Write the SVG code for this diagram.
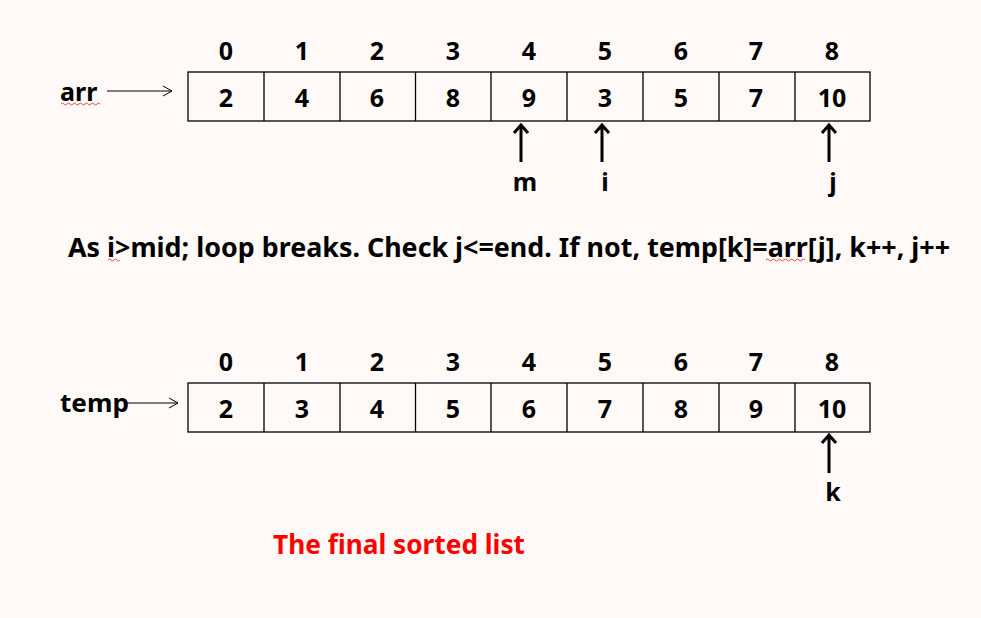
<svg xmlns="http://www.w3.org/2000/svg" width="981" height="618" viewBox="0 0 981 618">
<defs>
<style>
.t{font-family:"Noto Sans","Open Sans",sans-serif;font-weight:bold;fill:#000;}
.n{font-size:25px;text-anchor:middle;}
.cell{fill:none;stroke:#000;stroke-width:1.3;}
.up{stroke:#000;stroke-width:3;fill:none;}
.thin{stroke:#000;stroke-width:1;fill:none;}
.sq{stroke:#e02020;stroke-width:0.8;fill:none;}
</style>
</defs>
<rect width="981" height="618" fill="#fffaf7"/>
<g id="arr-array">
<rect class="cell" x="188" y="72" width="682" height="49"/>
<path class="cell" d="M264 72V121M340 72V121M415.5 72V121M491 72V121M567 72V121M643 72V121M719 72V121M795 72V121"/>
<g class="t n">
<text x="226" y="60">0</text><text x="302" y="60">1</text><text x="377" y="60">2</text><text x="453" y="60">3</text><text x="529" y="60">4</text><text x="605" y="60">5</text><text x="681" y="60">6</text><text x="756" y="60">7</text><text x="832" y="60">8</text>
<text x="226" y="107">2</text><text x="302" y="107">4</text><text x="377" y="107">6</text><text x="453" y="107">8</text><text x="529" y="107">9</text><text x="605" y="107">3</text><text x="681" y="107">5</text><text x="756" y="107">7</text><text x="832" y="107">10</text>
</g>
</g>
<g id="arr-label"><text class="t" x="60" y="101" font-size="25">arr</text><path class="sq" d="M61 104q1.5-2 3 0t3 0t3 0t3 0t3 0t3 0t3 0t3 0t3 0t3 0t3 0t3 0t3 0"/></g>
<g id="temp-array">
<rect class="cell" x="188" y="383" width="682" height="49"/>
<path class="cell" d="M264 383V432M340 383V432M415.5 383V432M491 383V432M567 383V432M643 383V432M719 383V432M795 383V432"/>
<g class="t n">
<text x="226" y="371">0</text><text x="302" y="371">1</text><text x="377" y="371">2</text><text x="453" y="371">3</text><text x="529" y="371">4</text><text x="605" y="371">5</text><text x="681" y="371">6</text><text x="756" y="371">7</text><text x="832" y="371">8</text>
<text x="226" y="418">2</text><text x="302" y="418">3</text><text x="377" y="418">4</text><text x="453" y="418">5</text><text x="529" y="418">6</text><text x="605" y="418">7</text><text x="681" y="418">8</text><text x="756" y="418">9</text><text x="832" y="418">10</text>
</g>
</g>
<g id="temp-label"><text class="t" x="60" y="412" font-size="25" textLength="69" lengthAdjust="spacingAndGlyphs">temp</text></g>
<g id="pointers" class="t" font-size="25" text-anchor="middle">
<text x="525" y="191">m</text><text x="605" y="191">i</text><text x="833" y="191">j</text><text x="833" y="501">k</text>
</g>
<g id="connectors">
<path class="thin" d="M107 91H172M163 86L172 91L163 96"/>
<path class="thin" d="M125 403H178M169 398L178 403L169 408"/>
<path class="up" d="M521 162V125M514 133L521 125L528 133"/>
<path class="up" d="M602 162V125M595 133L602 125L609 133"/>
<path class="up" d="M829 162V125M822 133L829 125L836 133"/>
<path class="up" d="M829 473V435M822 443L829 435L836 443"/>
</g>
<g id="caption">
<text class="t" x="68" y="257" font-size="26" textLength="882" lengthAdjust="spacingAndGlyphs">As i&gt;mid; loop breaks. Check j&lt;=end. If not, temp[k]=arr[j], k++, j++</text>
<path class="sq" d="M108 260q1.5-2 3 0t3 0t3 0t3 0"/>
<path class="sq" d="M766 260q1.5-2 3 0t3 0t3 0t3 0t3 0t3 0t3 0t3 0t3 0t3 0t3 0t3 0t3 0"/>
</g>
<g id="final"><text class="t" x="273" y="554" font-size="26" style="fill:#ff0000" textLength="252" lengthAdjust="spacingAndGlyphs">The final sorted list</text></g>
</svg>
